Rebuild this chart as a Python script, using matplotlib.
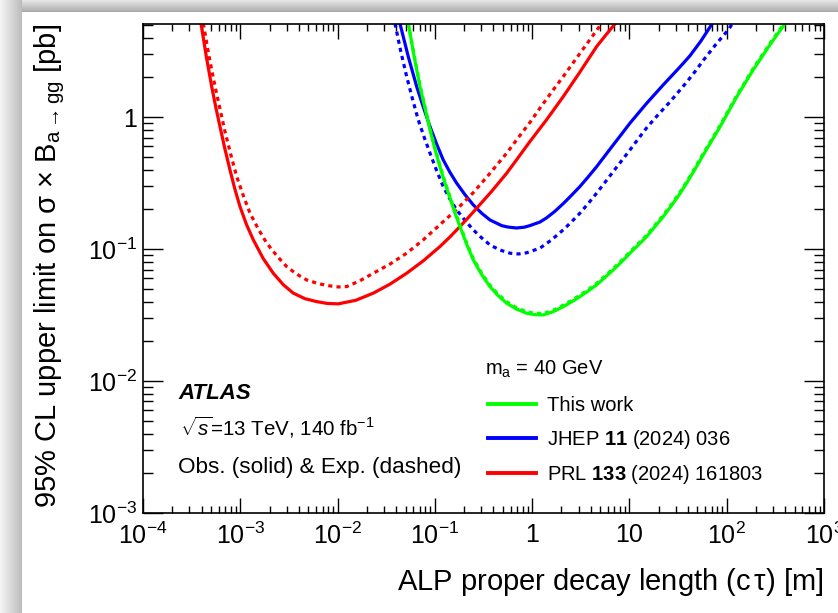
import numpy as np
import matplotlib
matplotlib.use("Agg")
import matplotlib.pyplot as plt
from matplotlib.ticker import FixedLocator, LogLocator, NullFormatter

plt.rcParams['font.family'] = ['Liberation Sans', 'DejaVu Sans']
plt.rcParams['mathtext.fontset'] = 'custom'
plt.rcParams['mathtext.rm'] = 'Liberation Sans'
plt.rcParams['mathtext.it'] = 'Liberation Sans:italic'
plt.rcParams['mathtext.bf'] = 'Liberation Sans:bold'

# ---------------- data (stored as log10 values) ----------------
# This work (green): log10(c tau [m]) and log10(limit [pb])
green_log_ctau = [-1.273, -1.213, -1.153, -1.100, -1.050, -1.000, -0.948, -0.897, -0.845, -0.794,
                  -0.742, -0.674, -0.605, -0.520, -0.434, -0.348, -0.262, -0.160, -0.057, 0.029,
                  0.114, 0.217, 0.320, 0.405, 0.491, 0.577, 0.663, 0.748, 0.834, 0.920,
                  1.006, 1.092, 1.178, 1.262, 1.347, 1.433, 1.519, 1.588, 1.674, 1.759,
                  1.931, 2.103, 2.273, 2.444, 2.600]
green_obs_log = [0.710, 0.459, 0.232, 0.064, -0.096, -0.240, -0.375, -0.499, -0.612, -0.725,
                 -0.829, -0.962, -1.082, -1.192, -1.284, -1.354, -1.410, -1.455, -1.486, -1.497,
                 -1.499, -1.474, -1.436, -1.400, -1.360, -1.317, -1.271, -1.215, -1.158, -1.096,
                 -1.031, -0.968, -0.905, -0.830, -0.754, -0.670, -0.580, -0.500, -0.395, -0.286,
                 -0.074, 0.154, 0.359, 0.548, 0.710]
green_exp_log = [0.710, 0.469, 0.243, 0.075, -0.085, -0.229, -0.364, -0.488, -0.601, -0.714,
                 -0.818, -0.951, -1.071, -1.181, -1.273, -1.343, -1.399, -1.444, -1.475, -1.486,
                 -1.488, -1.463, -1.425, -1.389, -1.349, -1.306, -1.260, -1.204, -1.147, -1.085,
                 -1.020, -0.957, -0.894, -0.819, -0.743, -0.659, -0.569, -0.489, -0.384, -0.275,
                 -0.063, 0.165, 0.370, 0.559, 0.721]

# JHEP 11 (2024) 036 (blue)
blue_obs_log_ctau = [-1.359, -1.273, -1.187, -1.118, -1.050, -0.982, -0.914, -0.845, -0.776, -0.690,
                     -0.605, -0.519, -0.434, -0.314, -0.250, -0.161, -0.080, -0.023, 0.080, 0.149,
                     0.235, 0.320, 0.405, 0.491, 0.577, 0.663, 0.748, 0.834, 0.920, 1.006,
                     1.177, 1.348, 1.519, 1.622, 1.733, 1.852]
blue_obs_log = [0.710, 0.458, 0.232, 0.075, -0.071, -0.204, -0.324, -0.418, -0.500, -0.588,
                -0.665, -0.728, -0.779, -0.822, -0.833, -0.840, -0.834, -0.822, -0.795, -0.763,
                -0.713, -0.655, -0.592, -0.526, -0.452, -0.375, -0.293, -0.210, -0.128, -0.045,
                0.105, 0.245, 0.380, 0.465, 0.575, 0.710]
blue_exp_log_ctau = [-1.410, -1.350, -1.290, -1.230, -1.171, -1.110, -1.050, -0.982, -0.914, -0.845,
                     -0.776, -0.690, -0.605, -0.519, -0.434, -0.331, -0.228, -0.140, -0.057, 0.080,
                     0.200, 0.320, 0.405, 0.491, 0.577, 0.663, 0.748, 0.834, 0.920, 1.006,
                     1.092, 1.178, 1.297, 1.416, 1.502, 1.588, 1.674, 1.759, 1.887, 2.016, 2.060]
blue_exp_log = [0.710, 0.497, 0.308, 0.138, -0.020, -0.152, -0.273, -0.405, -0.526, -0.621,
                -0.703, -0.783, -0.854, -0.915, -0.968, -1.007, -1.031, -1.037, -1.028, -0.993,
                -0.930, -0.854, -0.793, -0.728, -0.654, -0.576, -0.495, -0.412, -0.330, -0.248,
                -0.163, -0.080, 0.020, 0.115, 0.190, 0.265, 0.345, 0.430, 0.550, 0.662, 0.710]

# PRL 133 (2024) 161803 (red)
red_obs_log_ctau = [-3.404, -3.349, -3.294, -3.252, -3.209, -3.158, -3.106, -3.055, -3.003, -2.935,
                    -2.866, -2.764, -2.661, -2.558, -2.455, -2.335, -2.215, -2.104, -1.993, -1.813,
                    -1.633, -1.462, -1.290, -1.119, -0.948, -0.845, -0.742, -0.656, -0.570, -0.416,
                    -0.262, -0.143, -0.023, 0.149, 0.320, 0.492, 0.663, 0.757, 0.855]
red_obs_log = [0.710, 0.458, 0.232, 0.076, -0.071, -0.241, -0.400, -0.547, -0.678, -0.816,
               -0.930, -1.072, -1.183, -1.270, -1.334, -1.376, -1.398, -1.412, -1.415, -1.388,
               -1.334, -1.266, -1.183, -1.089, -0.981, -0.908, -0.829, -0.761, -0.690, -0.562,
               -0.425, -0.306, -0.185, -0.019, 0.156, 0.343, 0.535, 0.622, 0.710]
red_exp_log_ctau = [-3.380, -3.320, -3.260, -3.208, -3.157, -3.097, -3.037, -2.968, -2.900, -2.814,
                    -2.728, -2.625, -2.523, -2.420, -2.317, -2.197, -2.078, -1.990, -1.906, -1.770,
                    -1.633, -1.460, -1.290, -1.119, -0.948, -0.776, -0.605, -0.434, -0.262, -0.142,
                    -0.023, 0.080, 0.200, 0.320, 0.500, 0.680, 0.710]
red_exp_log = [0.710, 0.455, 0.235, 0.060, -0.110, -0.285, -0.450, -0.597, -0.728, -0.849,
               -0.955, -1.050, -1.133, -1.190, -1.234, -1.262, -1.279, -1.287, -1.284, -1.240,
               -1.183, -1.113, -1.031, -0.930, -0.815, -0.700, -0.572, -0.426, -0.273, -0.155,
               -0.040, 0.068, 0.190, 0.308, 0.492, 0.675, 0.710]

legend_labels = ["This work", r"JHEP $\mathbf{11}$ (2024) 036", r"PRL $\mathbf{133}$ (2024) 161803"]
x_ticks = [1e-4, 1e-3, 1e-2, 1e-1, 1, 10, 1e2, 1e3]
x_ticklabels = [r"10$^{-4}$", r"10$^{-3}$", r"10$^{-2}$", r"10$^{-1}$", "1", "10", r"10$^{2}$", r"10$^{3}$"]
y_ticks = [1e-3, 1e-2, 1e-1, 1]
y_ticklabels = [r"10$^{-3}$", r"10$^{-2}$", r"10$^{-1}$", "1"]

# ---------------- figure ----------------
W, H = 838, 613
fig = plt.figure(figsize=(W / 100, H / 100), dpi=100)

# grey shadow frame of the screenshot
bg = np.ones((H, W, 3))
left = np.linspace(0.96, 0.74, 22)
for i, v in enumerate(left):
    bg[:, i, :] = v
top = np.linspace(0.90, 0.70, 11)
for j, v in enumerate(top):
    bg[j, 22:, :] = v
bg[11, 22:, :] = 0.66
fig.figimage(bg, 0, 0, zorder=0)

ax = fig.add_axes([143 / W, 1 - 513 / H, 681 / W, 489 / H])
ax.set_zorder(2)
ax.set_xscale('log')
ax.set_yscale('log')
ax.set_xlim(1e-4, 1e3)
ax.set_ylim(1e-3, 5.08)

lw = 2.3
dash = (0, (1.3, 1.3))
c_g, c_b, c_r = '#00ff00', '#0000ff', '#ff0000'
kw = dict(solid_joinstyle='round', dash_joinstyle='round')


def p10(v):
    return np.power(10.0, np.asarray(v))


ax.plot(p10(blue_exp_log_ctau), p10(blue_exp_log), color=c_b, lw=lw, ls=dash, **kw)
ax.plot(p10(blue_obs_log_ctau), p10(blue_obs_log), color=c_b, lw=lw, **kw)
ax.plot(p10(red_exp_log_ctau), p10(red_exp_log), color=c_r, lw=lw, ls=dash, **kw)
ax.plot(p10(red_obs_log_ctau), p10(red_obs_log), color=c_r, lw=lw, **kw)
ax.plot(p10(green_log_ctau), p10(green_exp_log), color=c_g, lw=lw, ls=dash, **kw)
ax.plot(p10(green_log_ctau), p10(green_obs_log), color=c_g, lw=lw, **kw)

h_g, = ax.plot([], [], color=c_g, lw=lw + 0.5)
h_b, = ax.plot([], [], color=c_b, lw=lw + 0.5)
h_r, = ax.plot([], [], color=c_r, lw=lw + 0.5)

ax.xaxis.set_major_locator(FixedLocator(x_ticks))
ax.set_xticklabels(x_ticklabels)
ax.yaxis.set_major_locator(FixedLocator(y_ticks))
ax.set_yticklabels(y_ticklabels)
ax.xaxis.set_minor_locator(LogLocator(base=10, subs=np.arange(2, 10), numticks=20))
ax.yaxis.set_minor_locator(LogLocator(base=10, subs=np.arange(2, 10), numticks=20))
ax.xaxis.set_minor_formatter(NullFormatter())
ax.yaxis.set_minor_formatter(NullFormatter())

ax.tick_params(axis='both', which='both', direction='in', top=True, right=True, width=1.0, colors='black')
ax.tick_params(axis='x', which='major', length=10.5, pad=7, labelsize=18)
ax.tick_params(axis='x', which='minor', length=5.3)
ax.tick_params(axis='y', which='major', length=14.5, pad=4, labelsize=18)
ax.tick_params(axis='y', which='minor', length=7.3)
for s in ax.spines.values():
    s.set_linewidth(1.2)

ax.set_xlabel(r"ALP proper decay length (c$\,$τ) [m]", fontsize=21, loc='right', labelpad=12)
ax.set_ylabel(r"95% CL upper limit on σ × B$_{\mathrm{a\rightarrow gg}}$ [pb]", fontsize=21, loc='top', labelpad=15)

ax.text(0.0514, 0.2325, "ATLAS", transform=ax.transAxes, fontsize=16, fontweight='bold', style='italic', va='baseline')
ax.text(0.054, 0.1575, r"$\sqrt{s}$=13 TeV, 140 fb$^{\mathrm{-1}}$", transform=ax.transAxes, fontsize=14.8, va='baseline')
ax.text(0.0514, 0.0825, "Obs. (solid) & Exp. (dashed)", transform=ax.transAxes, fontsize=16.2, va='baseline')
ax.text(0.502, 0.282, r"m$_{\mathrm{a}}$ = 40 GeV", transform=ax.transAxes, fontsize=14.5, va='baseline')

ax.legend([h_g, h_b, h_r], legend_labels, loc='upper left', bbox_to_anchor=(0.506, 0.239),
          frameon=False, fontsize=14.5, handlelength=2.4, handletextpad=0.55,
          labelspacing=0.62, borderpad=0, borderaxespad=0)

fig.savefig("out.png", dpi=100)
